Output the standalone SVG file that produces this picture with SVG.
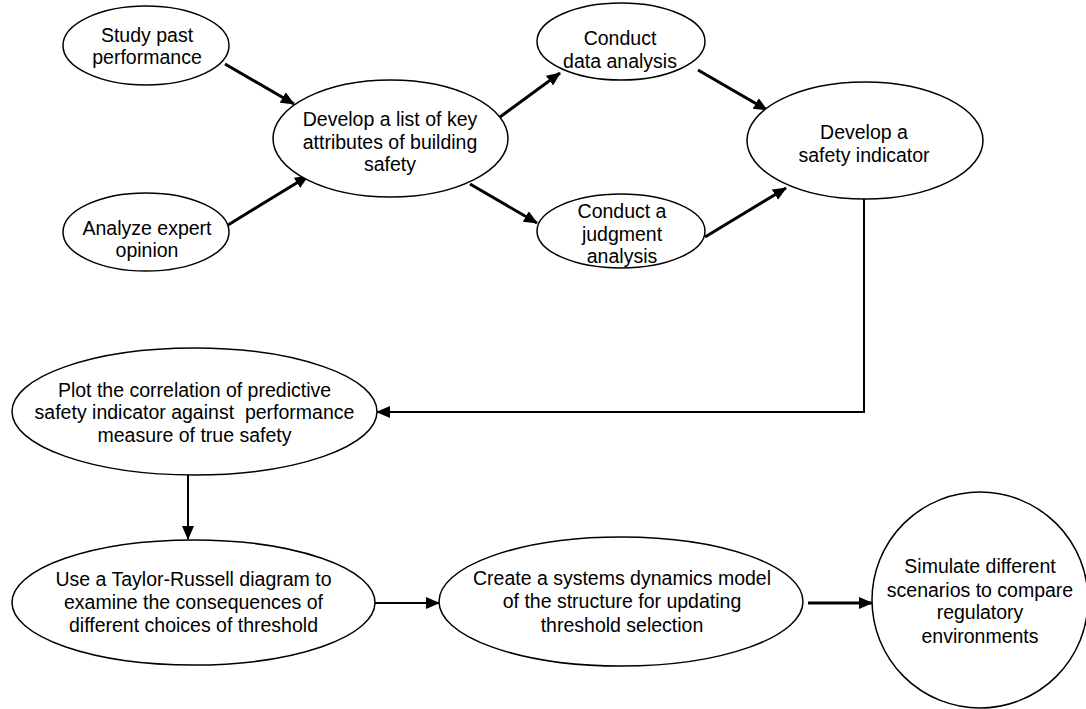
<svg xmlns="http://www.w3.org/2000/svg" width="1086" height="709" viewBox="0 0 1086 709">
  <style>
    .node ellipse { fill: #ffffff; stroke: #000000; stroke-width: 1.5; }
    .node text { font-family: "Liberation Sans", Arial, sans-serif; font-size: 19.5px; fill: #000000; text-anchor: middle; white-space: pre; }
    .conn { fill: none; stroke: #000000; stroke-width: 3; }
    .conn.thin { stroke-width: 2; }
  </style>
  <defs>
    <marker id="arrow" markerUnits="userSpaceOnUse" markerWidth="14" markerHeight="12" refX="13" refY="6" orient="auto">
      <path d="M0,0 L14,6 L0,12 z" fill="#000000"/>
    </marker>
  </defs>
  <rect width="1086" height="709" fill="#ffffff"/>

  <g id="connectors">
    <line class="conn" x1="225" y1="64" x2="294" y2="104" marker-end="url(#arrow)"/>
    <line class="conn" x1="228" y1="225" x2="308" y2="176" marker-end="url(#arrow)"/>
    <line class="conn" x1="500" y1="117" x2="560" y2="73" marker-end="url(#arrow)"/>
    <line class="conn" x1="470" y1="184" x2="537" y2="223" marker-end="url(#arrow)"/>
    <line class="conn" x1="698" y1="70" x2="767" y2="110" marker-end="url(#arrow)"/>
    <line class="conn" x1="705" y1="237" x2="786" y2="188" marker-end="url(#arrow)"/>
    <polyline class="conn thin" points="864,199 864,412 377,412" marker-end="url(#arrow)"/>
    <line class="conn thin" x1="188" y1="475" x2="188" y2="539" marker-end="url(#arrow)"/>
    <line class="conn thin" x1="375" y1="603" x2="439" y2="603" marker-end="url(#arrow)"/>
    <line class="conn" x1="808" y1="603" x2="872" y2="603" marker-end="url(#arrow)"/>
  </g>

  <g id="n1" class="node">
    <ellipse cx="146" cy="45.5" rx="83" ry="39.5"/>
    <text x="147" y="42">Study past</text>
    <text x="147" y="64">performance</text>
  </g>
  <g id="n2" class="node">
    <ellipse cx="146" cy="232" rx="83" ry="39"/>
    <text x="147" y="235">Analyze expert</text>
    <text x="147" y="257">opinion</text>
  </g>
  <g id="n3" class="node">
    <ellipse cx="390.5" cy="138.5" rx="117.5" ry="58.5"/>
    <text x="390" y="126">Develop a list of key</text>
    <text x="390" y="149">attributes of building</text>
    <text x="390" y="171">safety</text>
  </g>
  <g id="n4" class="node">
    <ellipse cx="621" cy="41.5" rx="84" ry="38.5"/>
    <text x="620" y="45">Conduct</text>
    <text x="620" y="68">data analysis</text>
  </g>
  <g id="n5" class="node">
    <ellipse cx="621" cy="231" rx="84" ry="37"/>
    <text x="622" y="218">Conduct a</text>
    <text x="622" y="241">judgment</text>
    <text x="622" y="263">analysis</text>
  </g>
  <g id="n6" class="node">
    <ellipse cx="865" cy="140.5" rx="118" ry="58.5"/>
    <text x="864" y="139">Develop a</text>
    <text x="864" y="162">safety indicator</text>
  </g>
  <g id="n7" class="node">
    <ellipse cx="194.5" cy="411.5" rx="182.5" ry="63.5"/>
    <text x="194.5" y="397">Plot the correlation of predictive</text>
    <text x="194.5" y="419">safety indicator against  performance</text>
    <text x="194.5" y="442">measure of true safety</text>
  </g>
  <g id="n8" class="node">
    <ellipse cx="193.5" cy="602.5" rx="181.5" ry="62.5"/>
    <text x="193.5" y="586">Use a Taylor-Russell diagram to</text>
    <text x="193.5" y="609">examine the consequences of</text>
    <text x="193.5" y="632">different choices of threshold</text>
  </g>
  <g id="n9" class="node">
    <ellipse cx="621" cy="601.5" rx="182" ry="64.5"/>
    <text x="622" y="585">Create a systems dynamics model</text>
    <text x="622" y="608">of the structure for updating</text>
    <text x="622" y="632">threshold selection</text>
  </g>
  <g id="n10" class="node">
    <ellipse cx="980" cy="600" rx="108" ry="108"/>
    <text x="980" y="573">Simulate different</text>
    <text x="980" y="597">scenarios to compare</text>
    <text x="980" y="619">regulatory</text>
    <text x="980" y="643">environments</text>
  </g>
</svg>
